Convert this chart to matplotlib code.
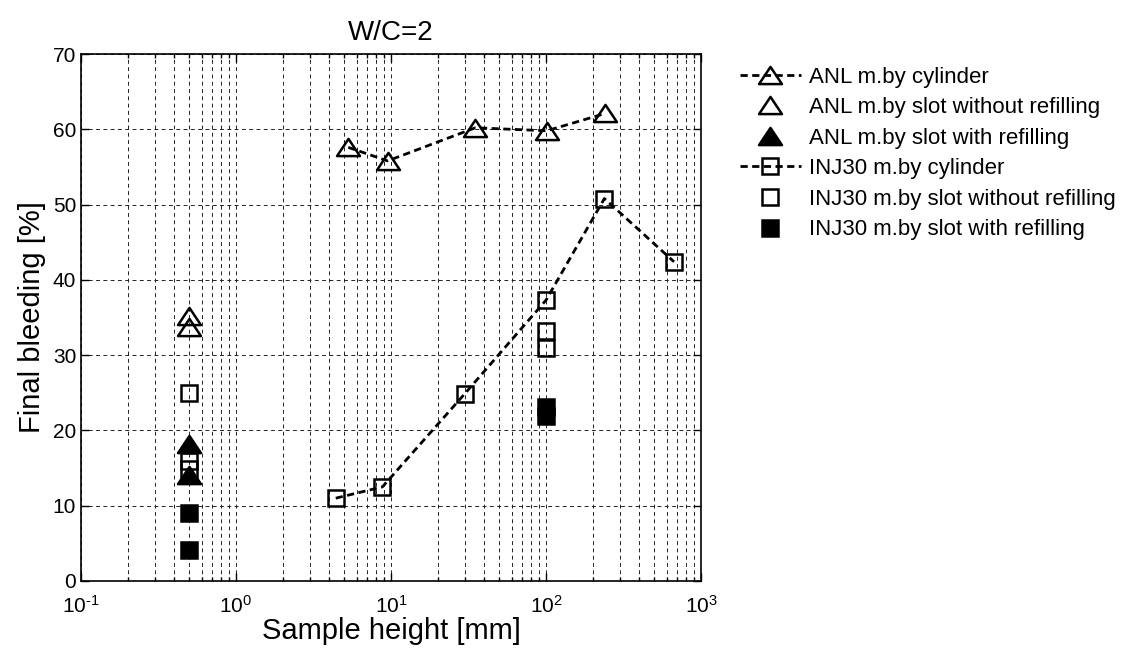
import numpy as np
import matplotlib
matplotlib.use("Agg")
import matplotlib.pyplot as plt
from matplotlib.path import Path
from matplotlib.ticker import FuncFormatter

plt.rcParams['font.family'] = ['Liberation Sans', 'DejaVu Sans']
plt.rcParams['mathtext.fontset'] = 'custom'
plt.rcParams['mathtext.rm'] = 'Liberation Sans'
plt.rcParams['mathtext.default'] = 'regular'

# ANL grout
anl_cyl_h = [5.3, 9.5, 35, 101, 241]
anl_cyl_b = [57.6, 55.8, 60.2, 59.8, 62.1]
anl_slot_h = [0.5, 0.5]
anl_slot_b = [35.2, 33.7]
anl_refill_h = [0.5, 0.5]
anl_refill_b = [18.2, 14.1]

# INJ30 grout
inj_cyl_h = [4.4, 8.8, 30, 100, 238, 670]
inj_cyl_b = [11.0, 12.5, 24.9, 37.3, 50.8, 42.4]
inj_slot_h = [0.5, 0.5, 0.5, 100, 100]
inj_slot_b = [25.0, 16.0, 14.9, 33.2, 31.0]
inj_refill_h = [0.5, 0.5, 100, 100]
inj_refill_b = [9.0, 4.1, 23.1, 21.9]

# wide, flat triangle
tri = Path([(-1, -0.75), (1, -0.75), (0, 0.75), (-1, -0.75)],
           [Path.MOVETO, Path.LINETO, Path.LINETO, Path.CLOSEPOLY])

fig = plt.figure(figsize=(11.21, 6.52), dpi=100)
ax = fig.add_axes([81/1121, 1 - 581/652, (701-81)/1121, (581-54)/652])

dash = (0, (2.6, 1.6))
mew = 1.8
tri_ms = 16.5
sq_ms = 11

ax.plot(anl_cyl_h, anl_cyl_b, color='k', ls=dash, lw=2.0, marker=tri,
        ms=tri_ms, mfc='none', mec='k', mew=mew, label='ANL m.by cylinder')
ax.plot(anl_slot_h, anl_slot_b, ls='none', marker=tri, ms=tri_ms,
        mfc='none', mec='k', mew=mew, label='ANL m.by slot without refilling')
ax.plot(anl_refill_h, anl_refill_b, ls='none', marker=tri, ms=tri_ms,
        mfc='k', mec='k', mew=mew, label='ANL m.by slot with refilling')
ax.plot(inj_cyl_h, inj_cyl_b, color='k', ls=dash, lw=2.0, marker='s',
        ms=sq_ms, mfc='none', mec='k', mew=mew, label='INJ30 m.by cylinder')
ax.plot(inj_slot_h, inj_slot_b, ls='none', marker='s', ms=sq_ms,
        mfc='none', mec='k', mew=mew, label='INJ30 m.by slot without refilling')
ax.plot(inj_refill_h, inj_refill_b, ls='none', marker='s', ms=sq_ms,
        mfc='k', mec='k', mew=mew, label='INJ30 m.by slot with refilling')

ax.set_xscale('log')
ax.set_xlim(0.1, 1000)
ax.set_ylim(0, 70)
ax.set_yticks(np.arange(0, 71, 10))
ax.xaxis.set_major_formatter(FuncFormatter(
    lambda v, p: '$10^{%s}$' % ('{\\text{-}}1' if v < 0.5 else int(round(np.log10(v))))))

grid_ls = (0, (4, 3.5))
ax.grid(True, which='major', axis='both', color='#222222', ls=grid_ls, lw=0.7)
ax.grid(True, which='minor', axis='x', color='#222222', ls=grid_ls, lw=0.7)
ax.tick_params(which='both', direction='in', top=True, right=True, labelsize=15, width=1)
ax.tick_params(which='major', length=6)
ax.tick_params(which='minor', length=3)
ax.tick_params(axis='x', pad=10)
for s in ax.spines.values():
    s.set_linewidth(1.2)

ax.set_title('W/C=2', fontsize=20, pad=10)
ax.set_xlabel('Sample height [mm]', fontsize=21, labelpad=0)
ax.set_ylabel('Final bleeding [%]', fontsize=21, labelpad=5)

ax.legend(loc='upper left', bbox_to_anchor=(0.650, 0.915),
          bbox_transform=fig.transFigure, frameon=False, fontsize=16,
          handlelength=2.75, handletextpad=0.35, labelspacing=0.43,
          borderpad=0)

fig.savefig('out.png', dpi=100)
